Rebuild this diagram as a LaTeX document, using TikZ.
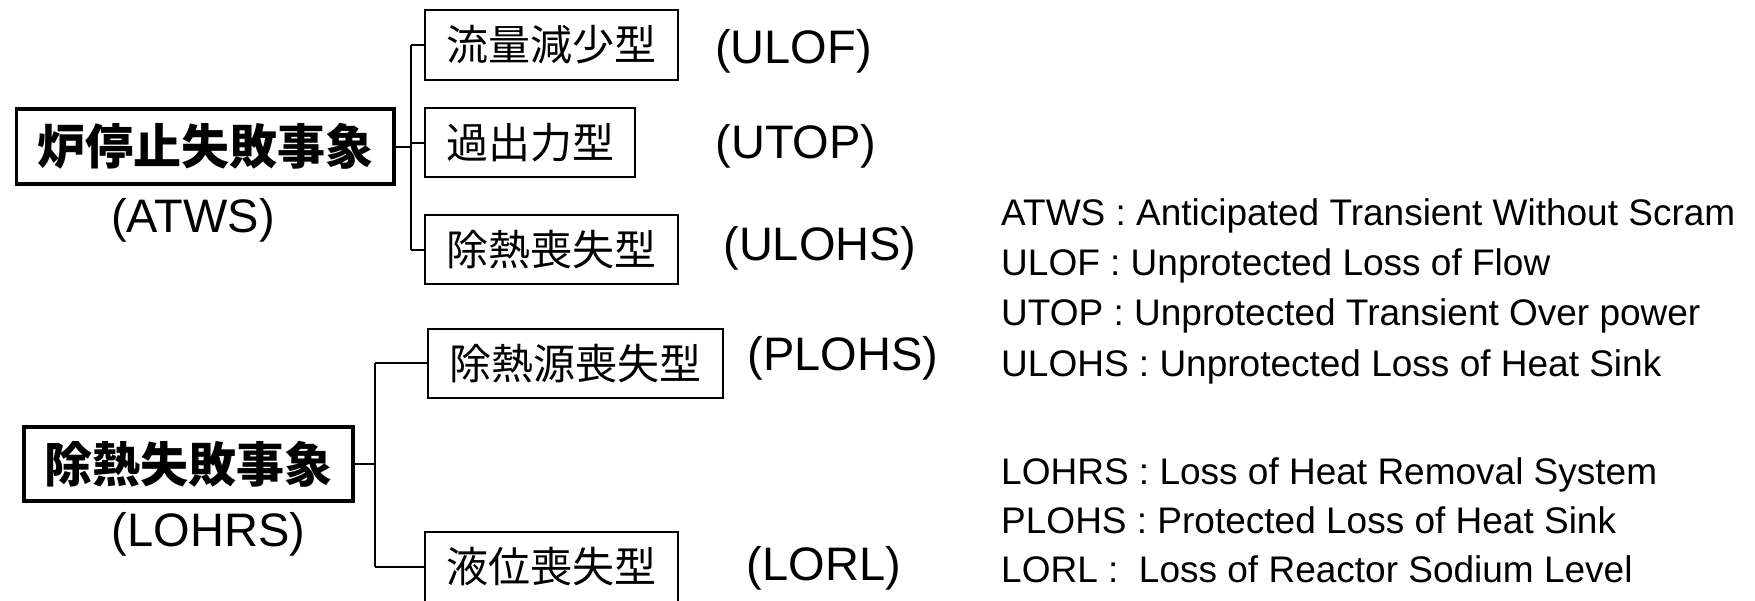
\documentclass[tikz,border=0pt]{standalone}
\usepackage{fontspec}
\setmainfont{Liberation Sans}
\newfontfamily\jp{Noto Sans CJK JP}
\begin{document}
\begin{tikzpicture}[x=1pt,y=-1pt,
  parentbox/.style={draw, line width=3.8pt, font=\jp\bfseries\fontsize{48}{56}\selectfont, inner sep=0pt},
  childbox/.style={draw, line width=2pt, font=\jp\fontsize{42}{50}\selectfont, inner sep=0pt},
  abbr/.style={font=\fontsize{47}{56}\selectfont, inner sep=0pt, anchor=base},
  defn/.style={font=\frenchspacing\fontsize{37}{44}\selectfont, inner sep=0pt, anchor=base west},
  conn/.style={line width=2pt}]
\clip (0,0) rectangle (1755,600);
\fill[white] (0,0) rectangle (1755,600);

% top tree
\node[parentbox, minimum width=377.7pt, minimum height=75.2pt] (A) at (205.25,146.5) {炉停止失敗事象};
\node[childbox, minimum width=253pt, minimum height=69.4pt] (C1) at (551.5,45) {流量減少型};
\node[childbox, minimum width=210pt, minimum height=69pt] (C2) at (530,142.8) {過出力型};
\node[childbox, minimum width=253pt, minimum height=69pt] (C3) at (551.5,249.5) {除熱喪失型};
\coordinate (ja) at (410.7,146.5);
\draw[conn] (A.east) -- (ja);
\draw[conn] (ja |- C1.west) -- (ja |- C3.west);
\draw[conn] (ja |- C1.west) -- (C1.west);
\draw[conn] (ja |- C2.west) -- (C2.west);
\draw[conn] (ja |- C3.west) -- (C3.west);

% bottom tree
\node[parentbox, minimum width=329.2pt, minimum height=74.2pt] (B) at (188.5,464) {除熱失敗事象};
\node[childbox, minimum width=295.7pt, minimum height=69.3pt] (D1) at (575.5,363.4) {除熱源喪失型};
\node[childbox, minimum width=252.2pt, minimum height=70pt] (D2) at (551.4,566.7) {液位喪失型};
\coordinate (jb) at (375,464);
\draw[conn] (B.east) -- (jb);
\draw[conn] (jb |- D1.west) -- (jb |- D2.west);
\draw[conn] (jb |- D1.west) -- (D1.west);
\draw[conn] (jb |- D2.west) -- (D2.west);

% abbreviations
\node[abbr] (lATWS) at (193,232) {(ATWS)};
\node[abbr] (lLOHRS) at (208.5,546.7) {(LOHRS)};
\node[abbr] (lULOF) at (793.5,63) {(ULOF)};
\node[abbr] (lUTOP) at (796,158) {(UTOP)};
\node[abbr] (lULOHS) at (820,260) {(ULOHS)};
\node[abbr] (lPLOHS) at (843,370) {(PLOHS)};
\node[abbr] (lLORL) at (824,580) {(LORL)};

% definitions
\node[defn] (d1) at (1001,225) {ATWS : Anticipated Transient Without Scram};
\node[defn] (d2) at (1001,275) {ULOF : Unprotected Loss of Flow};
\node[defn] (d3) at (1001,325) {UTOP : Unprotected Transient Over power};
\node[defn] (d4) at (1001,376) {ULOHS : Unprotected Loss of Heat Sink};
\node[defn] (d5) at (1001,484) {LOHRS : Loss of Heat Removal System};
\node[defn] (d6) at (1001,533) {PLOHS : Protected Loss of Heat Sink};
\node[defn] (d7) at (1001,582) {LORL :~ Loss of Reactor Sodium Level};
\end{tikzpicture}
\end{document}
